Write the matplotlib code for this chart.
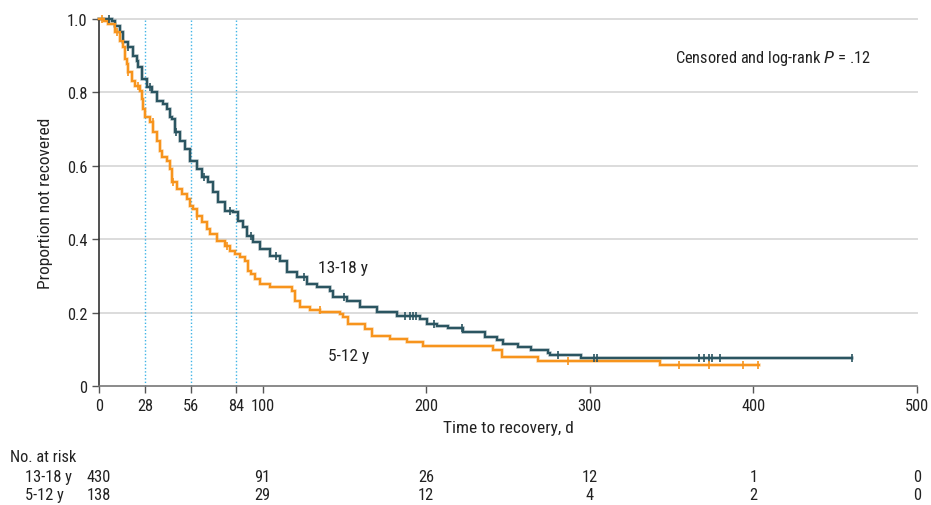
import numpy as np
import matplotlib
matplotlib.use('Agg')
import matplotlib.pyplot as plt
from matplotlib import font_manager
from matplotlib.transforms import blended_transform_factory

# prefer a narrow face if one is installed
installed = {f.name for f in font_manager.fontManager.ttflist}
families = [n for n in ['Liberation Sans Narrow', 'Roboto Condensed', 'Open Sans Condensed']
            if n in installed] + ['DejaVu Sans']
plt.rcParams['font.family'] = families
if families[0] == 'DejaVu Sans':
    plt.rcParams['font.stretch'] = 'condensed'

# Kaplan-Meier steps (day, proportion not recovered)
teen_days = [0, 8, 9.8, 12.8, 14.9, 17.7, 20.8, 23.0, 24.0, 26.1, 29.2, 32.2, 35.3, 39.3,
             41.4, 43.4, 44.4, 46.5, 49.5, 52.6, 55.6, 59.7, 62.8, 66.8, 69.9, 72.9, 77.0,
             82.1, 85.1, 88.2, 90.3, 94.3, 98.4, 104.5, 110.6, 114.7, 120.8, 127.0, 133.1,
             141.2, 143.2, 151.4, 159.5, 169.7, 182.0, 196.2, 200.3, 206.4, 213.3, 222.7,
             235.9, 243.3, 246.9, 256.1, 264.1, 274.4, 275.4, 294.6, 460.3]
teen_surv = [1.0, 0.995, 0.982, 0.965, 0.937, 0.923, 0.900, 0.886, 0.869, 0.836, 0.814, 0.800,
             0.777, 0.768, 0.755, 0.732, 0.728, 0.691, 0.668, 0.646, 0.614, 0.591, 0.569, 0.555,
             0.528, 0.501, 0.478, 0.473, 0.450, 0.432, 0.410, 0.392, 0.373, 0.355, 0.341, 0.310,
             0.296, 0.278, 0.269, 0.260, 0.242, 0.232, 0.214, 0.201, 0.190, 0.183, 0.169, 0.164,
             0.157, 0.146, 0.134, 0.125, 0.114, 0.105, 0.098, 0.089, 0.084, 0.076, 0.076]
teen_censor = [6, 18, 31, 47, 64, 80, 93, 108, 125, 150, 187, 190, 192, 194, 205, 222,
               280.6, 302.6, 304.4, 366.7, 369.8, 372.9, 374.7, 379.6, 460.3]

child_days = [0, 3, 5.5, 9.8, 12.8, 14.9, 15.9, 16.9, 17.9, 20.0, 22.0, 25.1, 26.1, 27.1, 28.1,
              31.2, 33.2, 35.3, 37.3, 38.3, 41.4, 43.4, 44.4, 47.5, 50.6, 53.6, 55.6, 57.6,
              59.7, 62.8, 65.8, 67.8, 71.9, 77.0, 80.1, 83.1, 86.2, 89.2, 91.3, 92.9, 95.4,
              98.4, 104.5, 117.8, 119.8, 122.9, 129.0, 135.1, 147.3, 149.3, 152.4, 162.6,
              166.7, 177.9, 188.1, 198.2, 241.0, 246.1, 268.3, 342.9, 403.4]
child_surv = [1.0, 0.995, 0.986, 0.965, 0.941, 0.923, 0.891, 0.877, 0.855, 0.832, 0.818,
              0.805, 0.782, 0.755, 0.732, 0.719, 0.691, 0.668, 0.641, 0.623, 0.614, 0.591,
              0.555, 0.537, 0.523, 0.510, 0.491, 0.482, 0.464, 0.446, 0.428, 0.414, 0.396,
              0.382, 0.369, 0.360, 0.351, 0.341, 0.314, 0.305, 0.292, 0.278, 0.269, 0.260,
              0.232, 0.214, 0.208, 0.201, 0.196, 0.187, 0.169, 0.155, 0.137, 0.128, 0.119,
              0.108, 0.098, 0.080, 0.069, 0.058, 0.058]
child_censor = [2, 11, 18, 24, 33, 45, 60, 78, 135, 286.7, 354.5, 372.9, 393.6, 402.8]

risk_days = [0, 100, 200, 300, 400, 500]
risk_teen = [430, 91, 26, 12, 1, 0]
risk_child = [138, 29, 12, 4, 2, 0]
landmarks = [28, 56, 84]

teen_color = '#2b5561'
child_color = '#f7941d'
txt = '#222222'
fs = 11.8


def surv_at(days, surv, t):
    idx = np.searchsorted(days, t, side='right') - 1
    return np.asarray(surv)[idx]


fig = plt.figure(figsize=(9.31, 5.06), dpi=100)
ax = fig.add_axes([99 / 931, 119 / 506, 818 / 931, 367 / 506])

for y in [0.2, 0.4, 0.6, 0.8, 1.0]:
    ax.axhline(y, color='#dcdcdc', lw=1.4, zorder=0, clip_on=False)
for d in landmarks:
    ax.axvline(d, color='#3fb4e6', lw=1.0, ls=(0, (1, 1.5)), zorder=1, clip_on=False)

for days, surv, cens, col in [(teen_days, teen_surv, teen_censor, teen_color),
                              (child_days, child_surv, child_censor, child_color)]:
    ax.step(days, surv, where='post', color=col, lw=2.6, alpha=0.3, zorder=2,
            solid_joinstyle='miter', clip_on=False)
    ax.step(days, surv, where='post', color=col, lw=1.6, zorder=3,
            solid_joinstyle='miter', clip_on=False)
    ax.plot(cens, surv_at(days, surv, cens), ls='none', marker='|', ms=5.5, mew=1.2,
            color=col, zorder=4, clip_on=False)

ax.set_xlim(0, 500)
ax.set_ylim(0, 1.0)
ax.set_xticks([0, 28, 56, 84, 100, 200, 300, 400, 500])
ax.set_yticks([0, 0.2, 0.4, 0.6, 0.8, 1.0])
ax.set_yticklabels(['0', '0.2', '0.4', '0.6', '0.8', '1.0'])
ax.tick_params(labelsize=fs, color='#555555', labelcolor=txt, length=5, width=1)
for s in ['top', 'right']:
    ax.spines[s].set_visible(False)
ax.spines['left'].set_color('#333333')
ax.spines['bottom'].set_color('#777777')
ax.spines['left'].set_linewidth(1.2)
ax.spines['bottom'].set_linewidth(1.2)

ax.set_xlabel('Time to recovery, d', fontsize=12.5, color=txt, labelpad=5)
ax.set_ylabel('Proportion not recovered', fontsize=12.5, color=txt, labelpad=10)

ax.text(134, 0.323, '13-18 y', fontsize=12.5, color=txt, va='center')
ax.text(140, 0.084, '5-12 y', fontsize=12.5, color=txt, va='center')
ax.text(472, 0.896, 'Censored and log-rank $\\it{P}$ = .12', fontsize=fs, color=txt,
        va='center', ha='right')

tr = blended_transform_factory(ax.transData, fig.transFigure)
fig.text(10 / 931, 1 - 458 / 506, 'No. at risk', fontsize=fs, color=txt, va='center')
fig.text(25 / 931, 1 - 478 / 506, '13-18 y', fontsize=fs, color=txt, va='center')
fig.text(25 / 931, 1 - 496 / 506, '5-12 y', fontsize=fs, color=txt, va='center')
for d, a, b in zip(risk_days, risk_teen, risk_child):
    ax.text(d, 1 - 478 / 506, str(a), transform=tr, ha='center', va='center',
            fontsize=fs, color=txt)
    ax.text(d, 1 - 496 / 506, str(b), transform=tr, ha='center', va='center',
            fontsize=fs, color=txt)

fig.savefig('out.png', dpi=100)
